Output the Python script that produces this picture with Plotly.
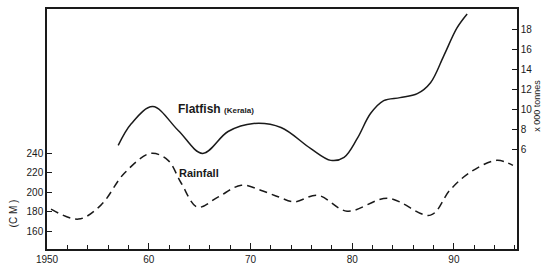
import plotly.graph_objects as go

# Flatfish (Kerala) landings, x 000 tonnes (right axis)
flat_years = [1957.0, 1958.3, 1960.4, 1962.9, 1965.3, 1967.8, 1970.3, 1973.0, 1975.9,
              1977.9, 1979.2, 1980.5, 1981.8, 1983.1, 1984.7, 1986.4, 1987.7, 1989.0,
              1990.3, 1991.3]
flat_vals = [6.4, 8.6, 10.3, 7.9, 5.6, 7.8, 8.6, 8.2, 6.1,
             4.9, 5.2, 7.1, 9.6, 10.9, 11.2, 11.6, 12.7, 15.4,
             18.2, 19.6]

# Rainfall, cm (left axis)
rain_years = [1950.4, 1953.1, 1955.3, 1957.6, 1960.2, 1961.9, 1963.2, 1964.8, 1966.8,
              1969.1, 1971.0, 1972.8, 1974.3, 1976.6, 1979.5, 1983.5, 1987.7, 1989.6,
              1991.6, 1994.2, 1995.8]
rain_vals = [182.6, 172.3, 186.7, 219.5, 240.0, 232.8, 209.2, 184.6, 194.9,
             207.2, 202.1, 195.0, 190.0, 196.9, 180.5, 193.8, 176.4, 202.1,
             220.5, 232.8, 227.7]

x_tickvals = [1950, 1960, 1970, 1980, 1990]
x_ticktext = ["1950", "60", "70", "80", "90"]
left_ticks = [160, 180, 200, 220, 240]
right_ticks = [6, 8, 10, 12, 14, 16, 18]

ink = "#1a1a1a"
font = "Liberation Sans"

fig = go.Figure()
fig.add_trace(go.Scatter(x=rain_years, y=rain_vals, mode="lines", yaxis="y",
                         line=dict(color=ink, width=1.5, dash="8px,5px", shape="spline", smoothing=1.0),
                         showlegend=False, hoverinfo="skip"))
fig.add_trace(go.Scatter(x=flat_years, y=flat_vals, mode="lines", yaxis="y2",
                         line=dict(color=ink, width=1.5, shape="spline", smoothing=1.0),
                         showlegend=False, hoverinfo="skip"))

fig.update_layout(
    template="none",
    width=541, height=267,
    margin=dict(l=47, r=24, t=9, b=18, autoexpand=False),
    paper_bgcolor="white", plot_bgcolor="white",
    font=dict(family=font, size=10, color=ink),
    xaxis=dict(range=[1950, 1996.2], tickvals=x_tickvals, ticktext=x_ticktext,
               ticks="inside", ticklen=6, tickcolor=ink, showline=True, linecolor=ink,
               linewidth=1.5, mirror=True, showgrid=False, zeroline=False, automargin=False,
               minor=dict(dtick=2, tick0=1950, ticks="inside", ticklen=4, tickcolor=ink, showgrid=False),
               tickfont=dict(size=10, family=font)),
    yaxis=dict(range=[141.5, 388.7], tickvals=left_ticks, ticks="inside", ticklen=5,
               tickcolor=ink, showline=True, linecolor=ink, linewidth=1.5, automargin=False,
               showgrid=False, zeroline=False, tickfont=dict(size=10, family=font)),
    yaxis2=dict(range=[-4.0, 20.1], tickvals=right_ticks, ticks="inside", ticklen=5,
                tickcolor=ink, showline=True, linecolor=ink, linewidth=1.5, automargin=False,
                overlaying="y", side="right", showgrid=False, zeroline=False,
                tickfont=dict(size=10, family=font)),
    annotations=[
        dict(text="<b>Flatfish</b> <b><span style='font-size:8px'>(Kerala)</span></b>",
             x=0.36, y=0.585, xref="paper", yref="paper", showarrow=False,
             xanchor="center", yanchor="middle",
             font=dict(size=12, family=font, color=ink)),
        dict(text="<b>Rainfall</b>", x=0.323, y=0.315, xref="paper", yref="paper",
             xanchor="center", yanchor="middle",
             showarrow=False, font=dict(size=11, family=font, color=ink)),
        dict(text="(C M )", x=-0.072, y=0.149, xref="paper", yref="paper",
             xanchor="center", yanchor="middle",
             showarrow=False, textangle=-90, font=dict(size=10, family=font, color=ink)),
        dict(text="x 000 tonnes", x=1.043, y=0.598, xref="paper", yref="paper",
             xanchor="center", yanchor="middle",
             showarrow=False, textangle=-90, font=dict(size=9, family=font, color=ink)),
    ],
)

fig.write_html("out.html", config={"displayModeBar": False},
               post_script="document.body.style.margin='0';document.body.style.padding='0';")
